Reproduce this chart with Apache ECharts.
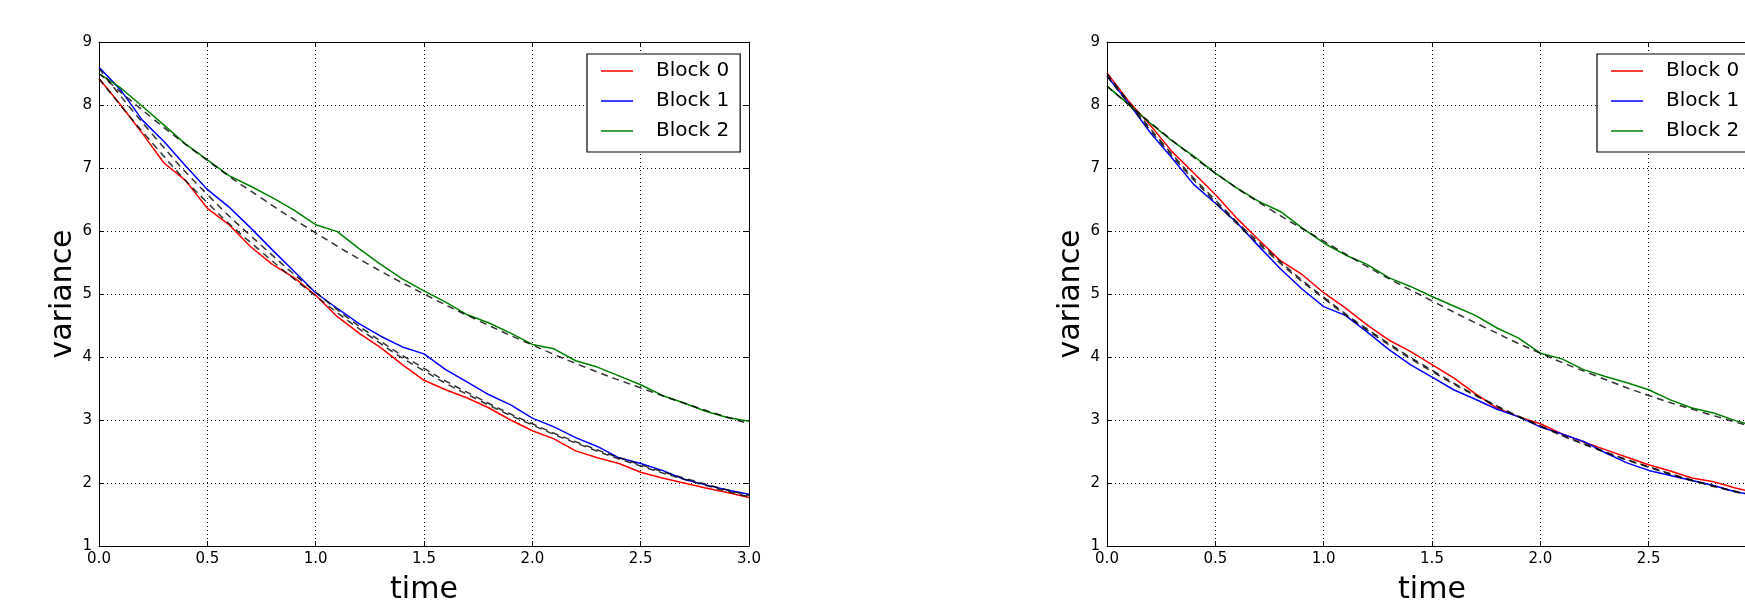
<!DOCTYPE html>
<html>
<head>
<meta charset="utf-8">
<script src="https://cdn.jsdelivr.net/npm/echarts@6/dist/echarts.min.js"></script>
<style>
html,body{margin:0;padding:0;background:#fff;}
#chart{width:1745px;height:600px;}
</style>
</head>
<body>
<div id="chart"></div>
<script>
// ---- data ----
const times = [0.0,0.1,0.2,0.3,0.4,0.5,0.6,0.7,0.8,0.9,1.0,1.1,1.2,1.3,1.4,1.5,1.6,1.7,1.8,1.9,2.0,2.1,2.2,2.3,2.4,2.5,2.6,2.7,2.8,2.9,3.0];
const theoryTimes = [0,0.25,0.5,0.75,1.0,1.25,1.5,1.75,2.0,2.25,2.5,2.75,3.0];
const blockNames = ["Block 0","Block 1","Block 2"];
const xTicks = [0,0.5,1.0,1.5,2.0,2.5,3.0];
const yTicks = [1,2,3,4,5,6,7,8,9];

const leftBlock0 = [8.42,8.00,7.55,7.08,6.80,6.36,6.10,5.75,5.47,5.26,4.98,4.64,4.38,4.15,3.88,3.63,3.48,3.35,3.19,3.00,2.83,2.70,2.51,2.40,2.31,2.17,2.08,2.00,1.92,1.85,1.77];
const leftBlock1 = [8.60,8.24,7.76,7.42,7.03,6.66,6.38,6.05,5.70,5.36,5.02,4.77,4.53,4.33,4.16,4.05,3.80,3.60,3.40,3.24,3.03,2.89,2.72,2.58,2.40,2.31,2.20,2.06,1.97,1.89,1.82];
const leftBlock2 = [8.50,8.27,7.98,7.68,7.38,7.13,6.88,6.71,6.53,6.33,6.10,5.99,5.72,5.47,5.24,5.05,4.87,4.67,4.54,4.38,4.20,4.13,3.94,3.84,3.70,3.56,3.39,3.27,3.14,3.04,2.98];
const leftTheory0 = [8.42,7.38,6.45,5.67,4.97,4.33,3.78,3.32,2.92,2.57,2.27,2.01,1.78];
const leftTheory1 = [8.58,7.52,6.58,5.77,5.03,4.37,3.82,3.35,2.94,2.59,2.29,2.03,1.80];
const leftTheory2 = [8.50,7.78,7.12,6.52,5.97,5.46,5.00,4.58,4.19,3.83,3.51,3.21,2.94];

const rightBlock0 = [8.51,8.06,7.68,7.26,6.92,6.58,6.20,5.86,5.53,5.31,5.02,4.78,4.51,4.27,4.09,3.88,3.67,3.42,3.19,3.05,2.94,2.78,2.65,2.53,2.41,2.29,2.19,2.08,2.02,1.92,1.84];
const rightBlock1 = [8.46,8.03,7.56,7.16,6.74,6.44,6.13,5.76,5.40,5.08,4.80,4.66,4.40,4.12,3.88,3.68,3.48,3.33,3.17,3.05,2.89,2.78,2.66,2.48,2.32,2.20,2.12,2.04,1.96,1.86,1.80];
const rightBlock2 = [8.30,8.01,7.71,7.43,7.19,6.92,6.68,6.47,6.31,6.05,5.81,5.62,5.47,5.26,5.12,4.96,4.81,4.66,4.46,4.30,4.06,3.97,3.80,3.69,3.59,3.48,3.32,3.19,3.11,2.99,2.90];
const rightTheory0 = [8.50,7.42,6.49,5.67,4.95,4.33,3.79,3.31,2.91,2.56,2.26,2.00,1.79];
const rightTheory1 = [8.46,7.39,6.46,5.64,4.93,4.31,3.77,3.30,2.90,2.55,2.25,1.99,1.78];
const rightTheory2 = [8.30,7.58,6.92,6.35,5.84,5.34,4.89,4.46,4.06,3.71,3.39,3.12,2.87];

// ---- styling ----
const FONT = "DejaVu Sans";
const colors = ["#ff0000","#0000ff","#008000"];
const zip = (xs, ys) => xs.map((x, i) => [x, ys[i]]);

const grids = [
  {left: 99, top: 42, width: 650, height: 504, outerBoundsMode: 'none', containLabel: false},
  {left: 1107, top: 42, width: 650, height: 504, outerBoundsMode: 'none', containLabel: false}
];

function mainX(gi){
  return {
    type:'value', gridIndex: gi, min: xTicks[0], max: xTicks[xTicks.length-1], interval: 0.5,
    name: 'time', nameLocation: 'middle', nameGap: 29,
    nameTextStyle: {fontFamily: FONT, fontSize: 30, color: '#000'},
    axisLine: {show: true, onZero: false, lineStyle: {color: '#000', width: 1}},
    axisTick: {show: true, inside: true, length: 5, lineStyle: {color: '#000'}},
    axisLabel: {fontFamily: FONT, fontSize: 15, color: '#000', margin: 6, formatter: v => v.toFixed(1)},
    splitLine: {show: true, lineStyle: {color: '#000', type: [1,3], width: 1}}
  };
}
function topX(gi){
  return {
    type:'value', gridIndex: gi, position: 'top', min: 0, max: 3, interval: 0.5,
    axisLine: {show: true, onZero: false, lineStyle: {color: '#000', width: 1}},
    axisTick: {show: true, inside: true, length: 5, lineStyle: {color: '#000'}},
    axisLabel: {show: false}, splitLine: {show: false}
  };
}
function mainY(gi){
  return {
    type:'value', gridIndex: gi, min: yTicks[0], max: yTicks[yTicks.length-1], interval: 1,
    name: 'variance', nameLocation: 'middle', nameGap: 20, nameRotate: 90,
    nameTextStyle: {fontFamily: FONT, fontSize: 30, color: '#000'},
    axisLine: {show: true, onZero: false, lineStyle: {color: '#000', width: 1}},
    axisTick: {show: true, inside: true, length: 5, lineStyle: {color: '#000'}},
    axisLabel: {fontFamily: FONT, fontSize: 15, color: '#000', margin: 7},
    splitLine: {show: true, lineStyle: {color: '#000', type: [1,3], width: 1}}
  };
}
function rightY(gi){
  return {
    type:'value', gridIndex: gi, position: 'right', min: 1, max: 9, interval: 1,
    axisLine: {show: true, onZero: false, lineStyle: {color: '#000', width: 1}},
    axisTick: {show: true, inside: true, length: 5, lineStyle: {color: '#000'}},
    axisLabel: {show: false}, splitLine: {show: false}
  };
}

function blockSeries(name, data, color, xi, yi){
  return {
    name, type: 'line', xAxisIndex: xi, yAxisIndex: yi, data: zip(times, data),
    symbol: 'none', lineStyle: {color, width: 1.5}, itemStyle: {color}, z: 2, silent: true
  };
}
function theorySeries(name, data, xi, yi){
  return {
    name, type: 'line', xAxisIndex: xi, yAxisIndex: yi, data: zip(theoryTimes, data),
    symbol: 'none', smooth: true,
    lineStyle: {color: '#000', width: 1.5, type: [7,5], opacity: 0.8}, z: 3, silent: true
  };
}

function legendAt(left){
  return {
    orient: 'vertical', left: left, top: 54,
    data: blockNames,
    icon: 'rect', itemWidth: 32, itemHeight: 1.5, itemGap: 10,
    padding: [7, 11, 11, 14],
    borderColor: '#000', borderWidth: 1.2, backgroundColor: '#fff',
    textStyle: {fontFamily: FONT, fontSize: 20, color: '#000', padding: [0,0,0,18], lineHeight: 20},
    selectedMode: false
  };
}

const option = {
  animation: false,
  backgroundColor: '#fff',
  grid: grids,
  xAxis: [mainX(0), topX(0), mainX(1), topX(1)],
  yAxis: [mainY(0), rightY(0), mainY(1), rightY(1)],
  legend: [legendAt(587), legendAt(1597)],
  series: [
    blockSeries(blockNames[0], leftBlock0, colors[0], 0, 0),
    blockSeries(blockNames[1], leftBlock1, colors[1], 0, 0),
    blockSeries(blockNames[2], leftBlock2, colors[2], 0, 0),
    theorySeries('theory L0', leftTheory0, 0, 0),
    theorySeries('theory L1', leftTheory1, 0, 0),
    theorySeries('theory L2', leftTheory2, 0, 0),
    blockSeries(blockNames[0], rightBlock0, colors[0], 2, 2),
    blockSeries(blockNames[1], rightBlock1, colors[1], 2, 2),
    blockSeries(blockNames[2], rightBlock2, colors[2], 2, 2),
    theorySeries('theory R0', rightTheory0, 2, 2),
    theorySeries('theory R1', rightTheory1, 2, 2),
    theorySeries('theory R2', rightTheory2, 2, 2)
  ]
};

const chart = echarts.init(document.getElementById('chart'), null, {renderer: 'canvas'});
chart.setOption(option);
</script>
</body>
</html>
